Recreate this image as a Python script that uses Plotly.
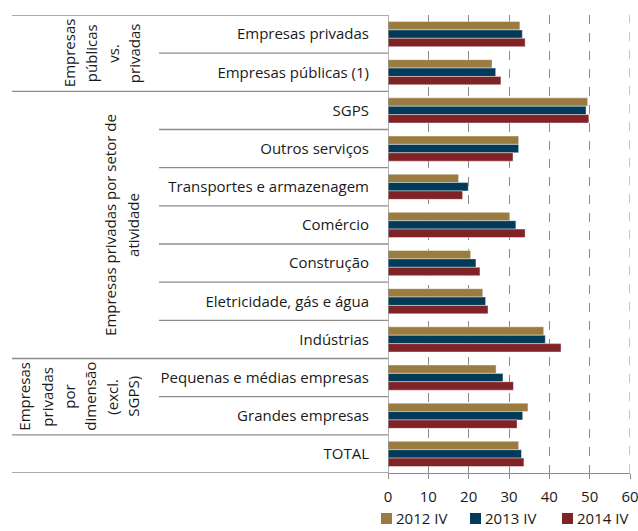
import plotly.graph_objects as go

# Categories from top to bottom as shown on the chart
categories = [
    "Empresas privadas",
    "Empresas públicas (1)",
    "SGPS",
    "Outros serviços",
    "Transportes e armazenagem",
    "Comércio",
    "Construção",
    "Eletricidade, gás e água",
    "Indústrias",
    "Pequenas e médias empresas",
    "Grandes empresas",
    "TOTAL",
]

series_names = ["2012 IV", "2013 IV", "2014 IV"]
values_2012 = [32.7, 25.8, 49.5, 32.4, 17.5, 30.1, 20.5, 23.5, 38.6, 26.8, 34.7, 32.4]
values_2013 = [33.3, 26.7, 49.1, 32.4, 19.9, 31.7, 21.8, 24.2, 39.0, 28.5, 33.4, 33.1]
values_2014 = [34.0, 28.0, 49.8, 31.0, 18.5, 34.0, 22.8, 24.8, 42.9, 31.1, 32.0, 33.7]
colors = ["#9A7C41", "#013B59", "#7F2327"]

# Group labels (one entry per rotated line) and the categories each group spans
groups = [
    {"lines": ["Empresas", "públicas", "vs.", "privadas"], "start": 0, "end": 1,
     "xs": [69, 91, 113.5, 134]},
    {"lines": ["Empresas privadas por setor de", "atividade"], "start": 2, "end": 8,
     "xs": [110, 133]},
    {"lines": ["Empresas", "privadas", "por", "dimensão", "(excl.", "SGPS)"], "start": 9, "end": 10,
     "xs": [24, 47, 69, 90, 112, 133]},
]
x_ticks = [0, 10, 20, 30, 40, 50, 60]

W, H = 638, 531
ML, MR, MT, MB = 388, 8, 15, 58
PW = W - ML - MR
PH = H - MT - MB
FONT = "Open Sans"
TXT = "#1a1a1a"
LINE = "#8c8c8c"
GRID = "#8a8a8a"

# legend key positions (left edge of each swatch, in pixels)
legend_x = [381, 470, 562]
legend_y = 518

n = len(categories)
# y positions: index 0 at the top
ypos = list(range(n))

fig = go.Figure()
for name, vals, col in zip(series_names, [values_2012, values_2013, values_2014], colors):
    fig.add_trace(go.Bar(
        y=ypos, x=vals, name=name, orientation="h", showlegend=False,
        marker=dict(color=col, line=dict(color="rgba(255,255,255,0.7)", width=0.6)),
    ))

def px_to_paper_x(px):
    return (px - ML) / PW

def py_to_paper_y(py):
    return (H - MB - py) / PH

shapes = []
# dashed gridline at the end of the value range
shapes.append(dict(type="line", xref="x", yref="paper", x0=x_ticks[-1], x1=x_ticks[-1],
                   y0=0, y1=1, line=dict(color=GRID, width=1, dash="dash")))
# separators between categories (short) and between groups (long)
group_bounds = set()
for g in groups:
    group_bounds.add(g["start"] - 0.5)
    group_bounds.add(g["end"] + 0.5)
group_bounds.add(n - 0.5)
for k in range(n + 1):
    b = k - 0.5
    x0 = px_to_paper_x(12) if b in group_bounds else px_to_paper_x(159)
    shapes.append(dict(type="line", xref="paper", yref="y", x0=x0, x1=0, y0=b, y1=b,
                       line=dict(color=LINE, width=1.3)))
# axis line at zero
shapes.append(dict(type="line", xref="x", yref="paper", x0=0, x1=0, y0=0, y1=1,
                   line=dict(color=LINE, width=1.3)))

annotations = []
for g in groups:
    yc = (g["start"] + g["end"]) / 2
    for line, xp in zip(g["lines"], g["xs"]):
        annotations.append(dict(
            text=line, textangle=-90, xref="paper", yref="y",
            x=px_to_paper_x(xp), y=yc, showarrow=False,
            xanchor="center", yanchor="middle",
            font=dict(family=FONT, size=15, color=TXT),
        ))

# legend: colour swatch followed by the series name
for name, col, lx in zip(series_names, colors, legend_x):
    shapes.append(dict(type="rect", xref="paper", yref="paper",
                       x0=px_to_paper_x(lx), x1=px_to_paper_x(lx + 11),
                       y0=py_to_paper_y(legend_y + 6), y1=py_to_paper_y(legend_y - 5),
                       fillcolor=col, line=dict(width=0)))
    annotations.append(dict(text=name, xref="paper", yref="paper",
                            x=px_to_paper_x(lx + 13), y=py_to_paper_y(legend_y),
                            xanchor="left", yanchor="middle", showarrow=False,
                            font=dict(family=FONT, size=15, color=TXT)))

fig.update_layout(
    width=W, height=H,
    margin=dict(l=ML, r=MR, t=MT, b=MB, pad=0, autoexpand=False),
    paper_bgcolor="white", plot_bgcolor="white",
    barmode="group", bargap=0.34, bargroupgap=0,
    font=dict(family=FONT, size=14, color=TXT),
    shapes=shapes, annotations=annotations,
    showlegend=False,
    xaxis=dict(range=[0, 60], tickvals=x_ticks, ticktext=[str(t) for t in x_ticks],
               showgrid=True, gridcolor=GRID, griddash="dash", gridwidth=1,
               zeroline=False, showline=True, linecolor=LINE, linewidth=1.3,
               ticks="outside", ticklen=5, tickcolor=LINE,
               ticklabelstandoff=5, ticklabeloverflow="allow",
               tickfont=dict(family=FONT, size=15, color=TXT)),
    yaxis=dict(range=[n - 0.5, -0.5], tickvals=ypos, ticktext=categories,
               showgrid=False, zeroline=False, showline=False, ticks="",
               ticklabelstandoff=18,
               tickfont=dict(family=FONT, size=15, color=TXT)),
)

fig.write_html("out.html")
